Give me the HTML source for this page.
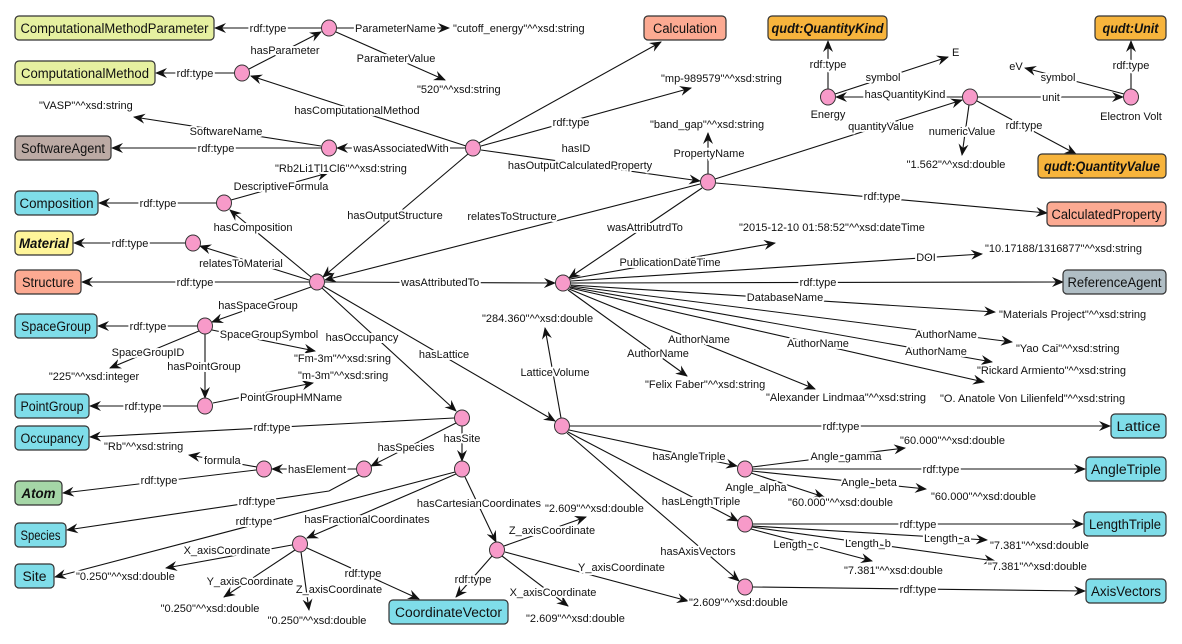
<!DOCTYPE html>
<html><head><meta charset="utf-8"><style>
html,body{margin:0;padding:0;background:#fff}
svg{display:block}
.l{font-family:"Liberation Sans",sans-serif;font-size:11px;fill:#111;stroke:#fff;stroke-width:4px;paint-order:stroke;stroke-linejoin:round}
.b{font-family:"Liberation Sans",sans-serif;font-size:13.5px;fill:#111}
.bi{font-family:"Liberation Sans",sans-serif;font-size:13.5px;fill:#111;font-style:italic;font-weight:bold}
line,polyline{stroke:#111;stroke-width:1.1;fill:none}
ellipse{fill:#f79ac9;stroke:#333;stroke-width:1}
rect{stroke:#333;stroke-width:1.2}
</style></head><body>
<svg width="1182" height="644" viewBox="0 0 1182 644" xmlns="http://www.w3.org/2000/svg">
<defs><marker id="a" viewBox="0 0 12 10" refX="11" refY="5" markerWidth="12" markerHeight="10" markerUnits="userSpaceOnUse" orient="auto"><path d="M0,0 L12,5 L0,10 L4,5 z" fill="#111"/></marker></defs>
<g marker-end="url(#a)">
<line x1="329" y1="28" x2="215" y2="28"/>
<line x1="249" y1="69" x2="321" y2="32"/>
<line x1="337" y1="28" x2="449" y2="28"/>
<line x1="336" y1="32" x2="445" y2="80"/>
<line x1="234" y1="73" x2="156" y2="73"/>
<line x1="466" y1="146" x2="251" y2="76"/>
<line x1="321" y1="146" x2="134" y2="117"/>
<line x1="321" y1="148" x2="112" y2="148"/>
<line x1="465" y1="148" x2="337" y2="148"/>
<line x1="231" y1="200" x2="328" y2="173"/>
<line x1="216" y1="203" x2="99" y2="203"/>
<line x1="311" y1="277" x2="230" y2="210"/>
<line x1="185" y1="243" x2="74" y2="243"/>
<line x1="309" y1="280" x2="200" y2="246"/>
<line x1="309" y1="282" x2="82" y2="282"/>
<line x1="468" y1="154" x2="323" y2="277"/>
<line x1="325" y1="282" x2="555" y2="283"/>
<line x1="700" y1="184" x2="325" y2="280"/>
<line x1="479" y1="143" x2="661" y2="42"/>
<line x1="481" y1="146" x2="691" y2="88"/>
<line x1="481" y1="150" x2="700" y2="181"/>
<line x1="708" y1="174" x2="708" y2="133"/>
<line x1="716" y1="183" x2="1047" y2="213"/>
<line x1="715" y1="179" x2="962" y2="100"/>
<line x1="702" y1="188" x2="569" y2="278"/>
<line x1="962" y1="97" x2="836" y2="97"/>
<line x1="828" y1="89" x2="828" y2="41"/>
<line x1="835" y1="94" x2="948" y2="57"/>
<line x1="969" y1="105" x2="962" y2="155"/>
<line x1="977" y1="101" x2="1076" y2="154"/>
<line x1="978" y1="97" x2="1123" y2="97"/>
<line x1="1131" y1="89" x2="1131" y2="41"/>
<line x1="1124" y1="94" x2="1025" y2="68"/>
<line x1="570" y1="279" x2="775" y2="243"/>
<line x1="571" y1="281" x2="982" y2="254"/>
<line x1="571" y1="283" x2="1063" y2="282"/>
<line x1="571" y1="285" x2="995" y2="312"/>
<line x1="571" y1="286" x2="1012" y2="342"/>
<line x1="570" y1="287" x2="992" y2="362"/>
<line x1="570" y1="288" x2="984" y2="382"/>
<line x1="569" y1="289" x2="815" y2="389"/>
<line x1="568" y1="290" x2="687" y2="376"/>
<line x1="311" y1="287" x2="212" y2="322"/>
<line x1="197" y1="326" x2="98" y2="326"/>
<line x1="212" y1="330" x2="315" y2="351"/>
<line x1="199" y1="331" x2="110" y2="368"/>
<line x1="205" y1="334" x2="205" y2="398"/>
<line x1="197" y1="406" x2="90" y2="406"/>
<line x1="213" y1="403" x2="313" y2="383"/>
<line x1="322" y1="288" x2="456" y2="411"/>
<line x1="323" y1="286" x2="555" y2="421"/>
<line x1="561" y1="418" x2="545" y2="328"/>
<line x1="454" y1="418" x2="90" y2="437"/>
<line x1="456" y1="423" x2="371" y2="466"/>
<line x1="462" y1="426" x2="462" y2="461"/>
<line x1="356" y1="469" x2="272" y2="469"/>
<line x1="257" y1="467" x2="189" y2="455"/>
<line x1="256" y1="470" x2="63" y2="493"/>
<polyline points="359,475 329,491 67,530"/>
<line x1="455" y1="472" x2="55" y2="577"/>
<line x1="456" y1="474" x2="307" y2="538"/>
<line x1="465" y1="477" x2="496" y2="542"/>
<line x1="292" y1="545" x2="166" y2="568"/>
<line x1="295" y1="550" x2="224" y2="597"/>
<line x1="301" y1="552" x2="309" y2="610"/>
<line x1="307" y1="548" x2="419" y2="599"/>
<line x1="492" y1="556" x2="456" y2="597"/>
<line x1="504" y1="546" x2="586" y2="517"/>
<line x1="502" y1="556" x2="568" y2="606"/>
<line x1="505" y1="552" x2="688" y2="601"/>
<line x1="570" y1="426" x2="1110" y2="426"/>
<line x1="569" y1="430" x2="737" y2="466"/>
<line x1="568" y1="432" x2="738" y2="521"/>
<line x1="567" y1="433" x2="739" y2="581"/>
<line x1="752" y1="467" x2="905" y2="448"/>
<line x1="753" y1="469" x2="1085" y2="469"/>
<line x1="752" y1="471" x2="926" y2="489"/>
<line x1="751" y1="473" x2="824" y2="497"/>
<line x1="753" y1="524" x2="1083" y2="524"/>
<line x1="752" y1="526" x2="987" y2="540"/>
<line x1="752" y1="527" x2="995" y2="561"/>
<line x1="751" y1="529" x2="872" y2="561"/>
<line x1="753" y1="587" x2="1085" y2="591"/>
</g>
<!-- boxes -->
<rect x="15" y="16" width="199" height="24" rx="4" fill="#e6f0a0"/><text class="b" x="114.5" y="33" text-anchor="middle" textLength="188" lengthAdjust="spacingAndGlyphs">ComputationalMethodParameter</text>
<rect x="15" y="61" width="140" height="24" rx="4" fill="#e6f0a0"/><text class="b" x="85" y="78" text-anchor="middle" textLength="128" lengthAdjust="spacingAndGlyphs">ComputationalMethod</text>
<rect x="15" y="136" width="96" height="24" rx="4" fill="#bcaaa4"/><text class="b" x="63" y="153" text-anchor="middle" textLength="84" lengthAdjust="spacingAndGlyphs">SoftwareAgent</text>
<rect x="15" y="191" width="83" height="24" rx="4" fill="#7fdde9"/><text class="b" x="56.5" y="208" text-anchor="middle" textLength="74" lengthAdjust="spacingAndGlyphs">Composition</text>
<rect x="15" y="231" width="58" height="24" rx="4" fill="#fff59a"/><text class="bi" x="44" y="248" text-anchor="middle" textLength="50" lengthAdjust="spacingAndGlyphs">Material</text>
<rect x="15" y="270" width="66" height="24" rx="4" fill="#fcaa92"/><text class="b" x="48" y="287" text-anchor="middle" textLength="52" lengthAdjust="spacingAndGlyphs">Structure</text>
<rect x="15" y="314" width="82" height="24" rx="4" fill="#7fdde9"/><text class="b" x="56" y="331" text-anchor="middle" textLength="70" lengthAdjust="spacingAndGlyphs">SpaceGroup</text>
<rect x="15" y="394" width="74" height="24" rx="4" fill="#7fdde9"/><text class="b" x="52" y="411" text-anchor="middle" textLength="63" lengthAdjust="spacingAndGlyphs">PointGroup</text>
<rect x="15" y="426" width="74" height="24" rx="4" fill="#7fdde9"/><text class="b" x="52" y="443" text-anchor="middle" textLength="63" lengthAdjust="spacingAndGlyphs">Occupancy</text>
<rect x="15" y="481" width="47" height="24" rx="4" fill="#a5d6a7"/><text class="bi" x="38.5" y="498" text-anchor="middle" textLength="34" lengthAdjust="spacingAndGlyphs">Atom</text>
<rect x="15" y="523" width="51" height="24" rx="4" fill="#7fdde9"/><text class="b" x="40.5" y="540" text-anchor="middle" textLength="40" lengthAdjust="spacingAndGlyphs">Species</text>
<rect x="15" y="564" width="39" height="24" rx="4" fill="#7fdde9"/><text class="b" x="34.5" y="581" text-anchor="middle" textLength="24" lengthAdjust="spacingAndGlyphs">Site</text>
<rect x="389" y="600" width="119" height="24" rx="4" fill="#7fdde9"/><text class="b" x="448.5" y="617" text-anchor="middle" textLength="107" lengthAdjust="spacingAndGlyphs">CoordinateVector</text>
<rect x="644" y="16" width="82" height="24" rx="4" fill="#fcaa92"/><text class="b" x="685" y="33" text-anchor="middle" textLength="64" lengthAdjust="spacingAndGlyphs">Calculation</text>
<rect x="768" y="16" width="119" height="24" rx="4" fill="#f7b43c"/><text class="bi" x="827.5" y="33" text-anchor="middle" textLength="112" lengthAdjust="spacingAndGlyphs">qudt:QuantityKind</text>
<rect x="1095" y="16" width="71" height="24" rx="4" fill="#f7b43c"/><text class="bi" x="1130.5" y="33" text-anchor="middle" textLength="56" lengthAdjust="spacingAndGlyphs">qudt:Unit</text>
<rect x="1038" y="154" width="128" height="24" rx="4" fill="#f7b43c"/><text class="bi" x="1102" y="171" text-anchor="middle" textLength="116" lengthAdjust="spacingAndGlyphs">qudt:QuantityValue</text>
<rect x="1047" y="202" width="119" height="24" rx="4" fill="#fcaa92"/><text class="b" x="1106.5" y="219" text-anchor="middle" textLength="110" lengthAdjust="spacingAndGlyphs">CalculatedProperty</text>
<rect x="1063" y="270" width="103" height="24" rx="4" fill="#b0bec5"/><text class="b" x="1114.5" y="287" text-anchor="middle" textLength="94" lengthAdjust="spacingAndGlyphs">ReferenceAgent</text>
<rect x="1111" y="414" width="55" height="24" rx="4" fill="#7fdde9"/><text class="b" x="1138.5" y="431" text-anchor="middle" textLength="44" lengthAdjust="spacingAndGlyphs">Lattice</text>
<rect x="1086" y="457" width="80" height="24" rx="4" fill="#7fdde9"/><text class="b" x="1126" y="474" text-anchor="middle" textLength="70" lengthAdjust="spacingAndGlyphs">AngleTriple</text>
<rect x="1084" y="512" width="82" height="24" rx="4" fill="#7fdde9"/><text class="b" x="1125" y="529" text-anchor="middle" textLength="72" lengthAdjust="spacingAndGlyphs">LengthTriple</text>
<rect x="1086" y="579" width="80" height="24" rx="4" fill="#7fdde9"/><text class="b" x="1126" y="596" text-anchor="middle" textLength="70" lengthAdjust="spacingAndGlyphs">AxisVectors</text>
<!-- nodes -->
<g>
<ellipse cx="329" cy="28" rx="7.5" ry="8"/><ellipse cx="242" cy="73" rx="7.5" ry="8"/>
<ellipse cx="329" cy="148" rx="7.5" ry="8"/><ellipse cx="473" cy="148" rx="7.5" ry="8"/>
<ellipse cx="224" cy="203" rx="7.5" ry="8"/><ellipse cx="193" cy="243" rx="7.5" ry="8"/>
<ellipse cx="317" cy="282" rx="7.5" ry="8"/><ellipse cx="708" cy="182" rx="7.5" ry="8"/>
<ellipse cx="828" cy="97" rx="7.5" ry="8"/><ellipse cx="970" cy="97" rx="7.5" ry="8"/>
<ellipse cx="1131" cy="97" rx="7.5" ry="8"/><ellipse cx="563" cy="283" rx="7.5" ry="8"/>
<ellipse cx="205" cy="326" rx="7.5" ry="8"/><ellipse cx="205" cy="406" rx="7.5" ry="8"/>
<ellipse cx="462" cy="418" rx="7.5" ry="8"/><ellipse cx="462" cy="469" rx="7.5" ry="8"/>
<ellipse cx="364" cy="469" rx="7.5" ry="8"/><ellipse cx="264" cy="469" rx="7.5" ry="8"/>
<ellipse cx="300" cy="544" rx="7.5" ry="8"/><ellipse cx="497" cy="550" rx="7.5" ry="8"/>
<ellipse cx="562" cy="426" rx="7.5" ry="8"/><ellipse cx="745" cy="469" rx="7.5" ry="8"/>
<ellipse cx="745" cy="524" rx="7.5" ry="8"/><ellipse cx="745" cy="587" rx="7.5" ry="8"/>
</g>
<!-- labels -->
<g class="l">
<text x="268" y="32" text-anchor="middle">rdf:type</text>
<text x="355" y="32">ParameterName</text>
<text x="453" y="32">"cutoff_energy"^^xsd:string</text>
<text x="285" y="54" text-anchor="middle">hasParameter</text>
<text x="396" y="62" text-anchor="middle">ParameterValue</text>
<text x="417" y="93">"520"^^xsd:string</text>
<text x="195" y="77" text-anchor="middle">rdf:type</text>
<text x="357" y="114" text-anchor="middle">hasComputationalMethod</text>
<text x="39" y="109">"VASP"^^xsd:string</text>
<text x="226" y="135" text-anchor="middle">SoftwareName</text>
<text x="216" y="152" text-anchor="middle">rdf:type</text>
<text x="401" y="152" text-anchor="middle">wasAssociatedWith</text>
<text x="275" y="172">"Rb2Li1Tl1Cl6"^^xsd:string</text>
<text x="281" y="190" text-anchor="middle">DescriptiveFormula</text>
<text x="158" y="207" text-anchor="middle">rdf:type</text>
<text x="253" y="231" text-anchor="middle">hasComposition</text>
<text x="395" y="219" text-anchor="middle">hasOutputStructure</text>
<text x="130" y="247" text-anchor="middle">rdf:type</text>
<text x="241" y="267" text-anchor="middle">relatesToMaterial</text>
<text x="195" y="286" text-anchor="middle">rdf:type</text>
<text x="401" y="286">wasAttributedTo</text>
<text x="258" y="309" text-anchor="middle">hasSpaceGroup</text>
<text x="571" y="126" text-anchor="middle">rdf:type</text>
<text x="576" y="152" text-anchor="middle">hasID</text>
<text x="580" y="169" text-anchor="middle">hasOutputCalculatedProperty</text>
<text x="512" y="220" text-anchor="middle">relatesToStructure</text>
<text x="661" y="82">"mp-989579"^^xsd:string</text>
<text x="650" y="128">"band_gap"^^xsd:string</text>
<text x="709" y="157" text-anchor="middle">PropertyName</text>
<text x="828" y="68" text-anchor="middle">rdf:type</text>
<text x="883" y="81" text-anchor="middle">symbol</text>
<text x="952" y="56">E</text>
<text x="905" y="98" text-anchor="middle">hasQuantityKind</text>
<text x="828" y="118" text-anchor="middle">Energy</text>
<text x="881" y="130" text-anchor="middle">quantityValue</text>
<text x="962" y="135" text-anchor="middle">numericValue</text>
<text x="1024" y="129" text-anchor="middle">rdf:type</text>
<text x="956" y="168" text-anchor="middle">"1.562"^^xsd:double</text>
<text x="1016" y="70" text-anchor="middle">eV</text>
<text x="1058" y="81" text-anchor="middle">symbol</text>
<text x="1131" y="69" text-anchor="middle">rdf:type</text>
<text x="1051" y="101" text-anchor="middle">unit</text>
<text x="1131" y="120" text-anchor="middle">Electron Volt</text>
<text x="882" y="200" text-anchor="middle">rdf:type</text>
<text x="645" y="231" text-anchor="middle">wasAttributrdTo</text>
<text x="739" y="231">"2015-12-10 01:58:52"^^xsd:dateTime</text>
<text x="670" y="266" text-anchor="middle">PublicationDateTime</text>
<text x="926" y="261" text-anchor="middle">DOI</text>
<text x="985" y="252">"10.17188/1316877"^^xsd:string</text>
<text x="818" y="286" text-anchor="middle">rdf:type</text>
<text x="785" y="301" text-anchor="middle">DatabaseName</text>
<text x="999" y="318">"Materials Project"^^xsd:string</text>
<text x="699" y="343" text-anchor="middle">AuthorName</text>
<text x="658" y="357" text-anchor="middle">AuthorName</text>
<text x="818" y="347" text-anchor="middle">AuthorName</text>
<text x="946" y="338" text-anchor="middle">AuthorName</text>
<text x="936" y="355" text-anchor="middle">AuthorName</text>
<text x="645" y="388">"Felix Faber"^^xsd:string</text>
<text x="766" y="401">"Alexander Lindmaa"^^xsd:string</text>
<text x="1016" y="352">"Yao Cai"^^xsd:string</text>
<text x="977" y="374">"Rickard Armiento"^^xsd:string</text>
<text x="940" y="402">"O. Anatole Von Lilienfeld"^^xsd:string</text>
<text x="482" y="322">"284.360"^^xsd:double</text>
<text x="555" y="376" text-anchor="middle">LatticeVolume</text>
<text x="148" y="330" text-anchor="middle">rdf:type</text>
<text x="269" y="338" text-anchor="middle">SpaceGroupSymbol</text>
<text x="148" y="356" text-anchor="middle">SpaceGroupID</text>
<text x="94" y="380" text-anchor="middle">"225"^^xsd:integer</text>
<text x="204" y="370" text-anchor="middle">hasPointGroup</text>
<text x="294" y="362">"Fm-3m"^^xsd:sring</text>
<text x="298" y="379">"m-3m"^^xsd:sring</text>
<text x="240" y="401">PointGroupHMName</text>
<text x="143" y="410" text-anchor="middle">rdf:type</text>
<text x="362" y="341" text-anchor="middle">hasOccupancy</text>
<text x="444" y="358" text-anchor="middle">hasLattice</text>
<text x="272" y="431" text-anchor="middle">rdf:type</text>
<text x="462" y="442" text-anchor="middle">hasSite</text>
<text x="406" y="451" text-anchor="middle">hasSpecies</text>
<text x="104" y="450">"Rb"^^xsd:string</text>
<text x="204" y="464">formula</text>
<text x="317" y="473" text-anchor="middle">hasElement</text>
<text x="159" y="484" text-anchor="middle">rdf:type</text>
<text x="257" y="505" text-anchor="middle">rdf:type</text>
<text x="254" y="525" text-anchor="middle">rdf:type</text>
<text x="479" y="507" text-anchor="middle">hasCartesianCoordinates</text>
<text x="367" y="523" text-anchor="middle">hasFractionalCoordinates</text>
<text x="545" y="512">"2.609"^^xsd:double</text>
<text x="552" y="534" text-anchor="middle">Z_axisCoordinate</text>
<text x="227" y="554" text-anchor="middle">X_axisCoordinate</text>
<text x="76" y="580">"0.250"^^xsd:double</text>
<text x="250" y="585" text-anchor="middle">Y_axisCoordinate</text>
<text x="363" y="577" text-anchor="middle">rdf:type</text>
<text x="473" y="583" text-anchor="middle">rdf:type</text>
<text x="339" y="593" text-anchor="middle">Z_axisCoordinate</text>
<text x="553" y="596" text-anchor="middle">X_axisCoordinate</text>
<text x="210" y="612" text-anchor="middle">"0.250"^^xsd:double</text>
<text x="317" y="624" text-anchor="middle">"0.250"^^xsd:double</text>
<text x="526" y="622">"2.609"^^xsd:double</text>
<text x="578" y="571">Y_axisCoordinate</text>
<text x="689" y="606">"2.609"^^xsd:double</text>
<text x="841" y="430" text-anchor="middle">rdf:type</text>
<text x="900" y="444">"60.000"^^xsd:double</text>
<text x="846" y="460" text-anchor="middle">Angle_gamma</text>
<text x="689" y="460" text-anchor="middle">hasAngleTriple</text>
<text x="941" y="473" text-anchor="middle">rdf:type</text>
<text x="756" y="491" text-anchor="middle">Angle_alpha</text>
<text x="869" y="486" text-anchor="middle">Angle_beta</text>
<text x="788" y="506">"60.000"^^xsd:double</text>
<text x="931" y="500">"60.000"^^xsd:double</text>
<text x="701" y="505" text-anchor="middle">hasLengthTriple</text>
<text x="918" y="528" text-anchor="middle">rdf:type</text>
<text x="947" y="542" text-anchor="middle">Length_a</text>
<text x="990" y="549">"7.381"^^xsd:double</text>
<text x="796" y="548" text-anchor="middle">Length_c</text>
<text x="868" y="547" text-anchor="middle">Length_b</text>
<text x="844" y="574">"7.381"^^xsd:double</text>
<text x="988" y="570">"7.381"^^xsd:double</text>
<text x="698" y="555" text-anchor="middle">hasAxisVectors</text>
<text x="918" y="593" text-anchor="middle">rdf:type</text>
</g>
</svg>
</body></html>
